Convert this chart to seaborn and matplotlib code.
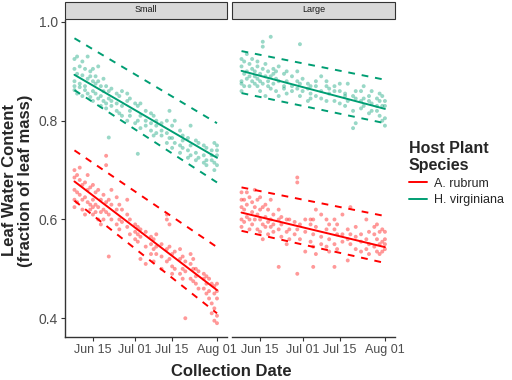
import datetime as dt
import pandas as pd
import matplotlib
matplotlib.use("Agg")
import matplotlib.pyplot as plt
import matplotlib.dates as mdates
from matplotlib.lines import Line2D
from matplotlib.patches import Rectangle
import seaborn as sns

# day of June (Jun 1 = 1, Jul 1 = 31, Aug 1 = 62) -> leaf water content readings
small_virginiana = {
    8: [0.925, 0.88, 0.862, 0.905, 0.87], 9: [0.93, 0.855, 0.895], 10: [0.91, 0.868, 0.875],
    11: [0.92, 0.85, 0.892], 12: [0.905, 0.862, 0.87], 13: [0.93, 0.885, 0.855],
    14: [0.89, 0.848, 0.9], 15: [0.88, 0.86, 0.905, 0.84], 16: [0.875, 0.855, 0.89],
    17: [0.845, 0.88, 0.91], 18: [0.83, 0.87, 0.85], 19: [0.86, 0.84, 0.885],
    20: [0.835, 0.87, 0.825], 21: [0.766, 0.845, 0.86], 22: [0.83, 0.865, 0.84],
    24: [0.82, 0.855, 0.835], 25: [0.815, 0.85], 26: [0.83, 0.86, 0.81],
    28: [0.8, 0.84, 0.855], 29: [0.82, 0.81, 0.845], 31: [0.795, 0.835],
    32: [0.733, 0.83, 0.8], 33: [0.81, 0.785, 0.835], 35: [0.79, 0.82, 0.8],
    37: [0.815, 0.78, 0.795], 38: [0.77, 0.81], 39: [0.79, 0.8, 0.775],
    41: [0.78, 0.795, 0.77], 43: [0.775, 0.755, 0.8], 44: [0.82, 0.765],
    45: [0.765, 0.79, 0.745], 46: [0.8, 0.755], 48: [0.75, 0.78, 0.735],
    49: [0.77, 0.745, 0.76], 51: [0.74, 0.765, 0.725], 52: [0.79, 0.75, 0.73],
    54: [0.76, 0.735, 0.72], 55: [0.755, 0.725], 57: [0.73, 0.75, 0.715],
    58: [0.745, 0.72, 0.71], 60: [0.74, 0.72, 0.73], 61: [0.755, 0.715, 0.7],
    62: [0.74, 0.71, 0.73, 0.75],
}
small_rubrum = {
    8: [0.70, 0.66, 0.64, 0.685, 0.625], 9: [0.69, 0.655, 0.635], 10: [0.68, 0.65, 0.705],
    11: [0.64, 0.67, 0.62], 12: [0.675, 0.645, 0.61], 13: [0.66, 0.635, 0.69],
    14: [0.63, 0.665, 0.62], 15: [0.64, 0.625, 0.67, 0.61], 16: [0.655, 0.63, 0.615],
    17: [0.625, 0.66, 0.6], 18: [0.64, 0.615, 0.59], 19: [0.62, 0.65, 0.6],
    20: [0.729, 0.71, 0.615, 0.635], 21: [0.61, 0.64, 0.525], 22: [0.6, 0.63, 0.66],
    24: [0.62, 0.59, 0.645], 25: [0.6, 0.63, 0.58], 26: [0.62, 0.595],
    28: [0.64, 0.61, 0.585], 29: [0.6, 0.57], 31: [0.575, 0.59, 0.56],
    32: [0.585, 0.555, 0.57], 33: [0.52, 0.565, 0.58], 35: [0.545, 0.575, 0.51],
    37: [0.55, 0.53, 0.565], 38: [0.56, 0.515, 0.54], 39: [0.545, 0.57, 0.53],
    41: [0.525, 0.55, 0.5], 43: [0.54, 0.515, 0.6, 0.61], 44: [0.59, 0.52, 0.545],
    45: [0.53, 0.505, 0.49], 46: [0.535, 0.5], 48: [0.52, 0.49, 0.54],
    49: [0.5, 0.525, 0.48], 50: [0.4, 0.515, 0.495], 52: [0.51, 0.48, 0.53],
    53: [0.5, 0.475, 0.52], 54: [0.485, 0.5, 0.47], 55: [0.46, 0.495],
    57: [0.48, 0.46, 0.49], 58: [0.47, 0.485, 0.45], 59: [0.48, 0.455, 0.44],
    60: [0.47, 0.43, 0.41], 61: [0.45, 0.42, 0.395, 0.465],
    62: [0.44, 0.39, 0.405, 0.47, 0.455],
}
large_virginiana = {
    8: [0.91, 0.88, 0.925, 0.875, 0.86], 9: [0.895, 0.92, 0.87], 10: [0.9, 0.935, 0.885],
    11: [0.89, 0.915, 0.87], 12: [0.905, 0.88, 0.925], 13: [0.9, 0.875, 0.89],
    14: [0.91, 0.87, 0.885, 0.92], 15: [0.895, 0.86, 0.88], 16: [0.96, 0.95, 0.905, 0.875],
    17: [0.89, 0.85, 0.915], 18: [0.9, 0.87, 0.88], 19: [0.97, 0.89, 0.865],
    20: [0.905, 0.875, 0.895], 21: [0.86, 0.9, 0.885], 22: [0.88, 0.85, 0.91],
    24: [0.895, 0.87, 0.865], 25: [0.9, 0.88, 0.855], 27: [0.87, 0.89, 0.86],
    29: [0.88, 0.9, 0.865], 30: [0.955, 0.875, 0.85], 31: [0.86, 0.885],
    33: [0.84, 0.875, 0.865], 34: [0.87, 0.845, 0.855], 36: [0.88, 0.85, 0.87],
    38: [0.89, 0.86, 0.845], 40: [0.87, 0.84, 0.88], 41: [0.855, 0.865],
    43: [0.84, 0.87, 0.86], 45: [0.86, 0.835, 0.875], 47: [0.855, 0.83, 0.85],
    48: [0.875, 0.84], 50: [0.785, 0.85, 0.82], 51: [0.795, 0.845, 0.86],
    53: [0.84, 0.825, 0.86], 54: [0.87, 0.83, 0.845], 56: [0.84, 0.815, 0.85],
    57: [0.86, 0.835, 0.82], 59: [0.845, 0.82, 0.83], 60: [0.84, 0.81, 0.855],
    61: [0.85, 0.8, 0.83], 62: [0.84, 0.79, 0.805, 0.83],
}
large_rubrum = {
    8: [0.64, 0.6, 0.625, 0.655, 0.585], 9: [0.62, 0.595, 0.64], 10: [0.63, 0.605, 0.655],
    11: [0.6, 0.645, 0.58], 12: [0.615, 0.59, 0.635], 13: [0.625, 0.6, 0.66],
    14: [0.58, 0.61, 0.64], 15: [0.6, 0.575, 0.62, 0.645], 16: [0.59, 0.625, 0.56],
    17: [0.605, 0.585, 0.63], 18: [0.595, 0.62, 0.57], 19: [0.585, 0.6, 0.64],
    20: [0.61, 0.575, 0.59], 22: [0.504, 0.58, 0.6, 0.62], 23: [0.59, 0.565, 0.605],
    25: [0.6, 0.575, 0.55], 26: [0.58, 0.6, 0.56], 28: [0.57, 0.595],
    29: [0.685, 0.675, 0.49, 0.58], 30: [0.59, 0.56], 32: [0.575, 0.535, 0.6],
    34: [0.6, 0.555, 0.59], 35: [0.504, 0.545, 0.57, 0.6], 36: [0.585, 0.53, 0.62],
    38: [0.61, 0.565, 0.55], 40: [0.58, 0.545, 0.6], 41: [0.56, 0.59, 0.535],
    43: [0.504, 0.58, 0.6, 0.55], 44: [0.57, 0.54, 0.59], 46: [0.61, 0.555, 0.57],
    48: [0.517, 0.56, 0.58], 49: [0.625, 0.55, 0.57], 51: [0.54, 0.565, 0.585],
    53: [0.57, 0.535, 0.555], 55: [0.6, 0.56, 0.54], 56: [0.55, 0.575, 0.53],
    58: [0.57, 0.545, 0.585], 59: [0.56, 0.535, 0.59], 60: [0.575, 0.55, 0.53],
    61: [0.555, 0.58, 0.535], 62: [0.56, 0.54, 0.575, 0.55],
}

# fitted line and dashed bounds, at first and last collection day
line_days = [8, 62]
small_virginiana_fit = [0.893, 0.725]
small_virginiana_hi = [0.967, 0.795]
small_virginiana_lo = [0.862, 0.675]
small_rubrum_fit = [0.677, 0.457]
small_rubrum_hi = [0.740, 0.544]
small_rubrum_lo = [0.638, 0.410]
large_virginiana_fit = [0.901, 0.824]
large_virginiana_hi = [0.941, 0.883]
large_virginiana_lo = [0.856, 0.795]
large_rubrum_fit = [0.614, 0.544]
large_rubrum_hi = [0.665, 0.607]
large_rubrum_lo = [0.577, 0.512]

panels = ["Small", "Large"]
species = ["A. rubrum", "H. virginiana"]
palette = {"A. rubrum": "#FF0000", "H. virginiana": "#009E73"}

base = dt.datetime(2019, 5, 31)


def to_date(day):
    return base + dt.timedelta(days=day)


rows = []
for panel, sp, pts in [("Small", "H. virginiana", small_virginiana),
                       ("Small", "A. rubrum", small_rubrum),
                       ("Large", "H. virginiana", large_virginiana),
                       ("Large", "A. rubrum", large_rubrum)]:
    for day, vals in pts.items():
        for v in vals:
            rows.append({"panel": panel, "species": sp, "date": to_date(day), "water": v})
df = pd.DataFrame(rows)

lines = {
    ("Small", "H. virginiana"): (small_virginiana_fit, small_virginiana_hi, small_virginiana_lo),
    ("Small", "A. rubrum"): (small_rubrum_fit, small_rubrum_hi, small_rubrum_lo),
    ("Large", "H. virginiana"): (large_virginiana_fit, large_virginiana_hi, large_virginiana_lo),
    ("Large", "A. rubrum"): (large_rubrum_fit, large_rubrum_hi, large_rubrum_lo),
}

sns.set_theme(style="white")
plt.rcParams["font.family"] = ["Liberation Sans", "DejaVu Sans"]

fig = plt.figure(figsize=(5.12, 3.8), dpi=100)
W, H = 512, 380
axes = []
for i, (x0, x1) in enumerate([(65, 227), (232, 395)]):
    ax = fig.add_axes([x0 / W, 1 - 337 / H, (x1 - x0) / W, (337 - 20) / H])
    axes.append(ax)

line_dates = [to_date(d) for d in line_days]
for ax, panel in zip(axes, panels):
    sub = df[df.panel == panel]
    sns.scatterplot(data=sub, x="date", y="water", hue="species", palette=palette,
                    s=8, alpha=0.4, linewidth=0, ax=ax, legend=False)
    for sp in species:
        fit, hi, lo = lines[(panel, sp)]
        c = palette[sp]
        sns.lineplot(x=line_dates, y=fit, color=c, lw=1.4, ax=ax)
        sns.lineplot(x=line_dates, y=hi, color=c, lw=1.4, linestyle=(0, (3.5, 3.5)), ax=ax)
        sns.lineplot(x=line_dates, y=lo, color=c, lw=1.4, linestyle=(0, (3.5, 3.5)), ax=ax)

    ax.set_xlim(dt.datetime(2019, 6, 4, 10), dt.datetime(2019, 8, 4, 19))
    ax.set_ylim(0.362, 1.004)
    ax.xaxis.set_major_locator(mdates.DayLocator(bymonthday=[1, 15]))
    ax.xaxis.set_major_formatter(mdates.DateFormatter("%b %d"))
    ax.set_xlabel("")
    ax.set_ylabel("")
    for s in ["top", "right"]:
        ax.spines[s].set_visible(False)
    ax.spines["bottom"].set_color("#333333")
    ax.spines["bottom"].set_linewidth(1.0)
    ax.tick_params(axis="both", labelsize=9, colors="#333333", length=3, width=0.8,
                   direction="out", bottom=True, left=True, pad=2)
    ax.tick_params(axis="both", labelcolor="#4D4D4D")
    ax.add_patch(Rectangle((0, 1.0 + 1 / 317), 1, 17 / 317, transform=ax.transAxes,
                           clip_on=False, facecolor="#D9D9D9", edgecolor="#333333", lw=0.8))
    ax.text(0.5, 1.0 + 10 / 317, panel, transform=ax.transAxes, ha="center", va="center",
            fontsize=6.5, color="#1A1A1A")

axes[0].spines["left"].set_color("#333333")
axes[0].spines["left"].set_linewidth(1.0)
axes[0].set_yticks([0.4, 0.6, 0.8, 1.0])
axes[0].yaxis.set_major_formatter(matplotlib.ticker.FormatStrFormatter("%.1f"))
axes[0].tick_params(axis="y", labelsize=10)
axes[1].spines["left"].set_visible(False)
axes[1].set_yticks([0.4, 0.6, 0.8, 1.0])
axes[1].tick_params(axis="y", left=False, labelleft=False)

fig.text(0.034, 0.525, "Leaf Water Content\n(fraction of leaf mass)", rotation=90,
         ha="center", va="center", fontsize=12, fontweight="bold", linespacing=1.1)
fig.text(231 / W, 1 - 371 / H, "Collection Date", ha="center", va="center",
         fontsize=12, fontweight="bold")

handles = [Line2D([], [], color=palette[sp], lw=1.4) for sp in species]
leg = fig.legend(handles, species, title="Host Plant\nSpecies", loc="upper left",
                 bbox_to_anchor=(404 / W, 1 - 136 / H), frameon=False, fontsize=9,
                 title_fontproperties={"weight": "bold", "size": 11.5},
                 handlelength=1.4, handletextpad=0.6, labelspacing=0.35, borderaxespad=0)
leg._legend_box.align = "left"

fig.savefig("out.png", dpi=100)
